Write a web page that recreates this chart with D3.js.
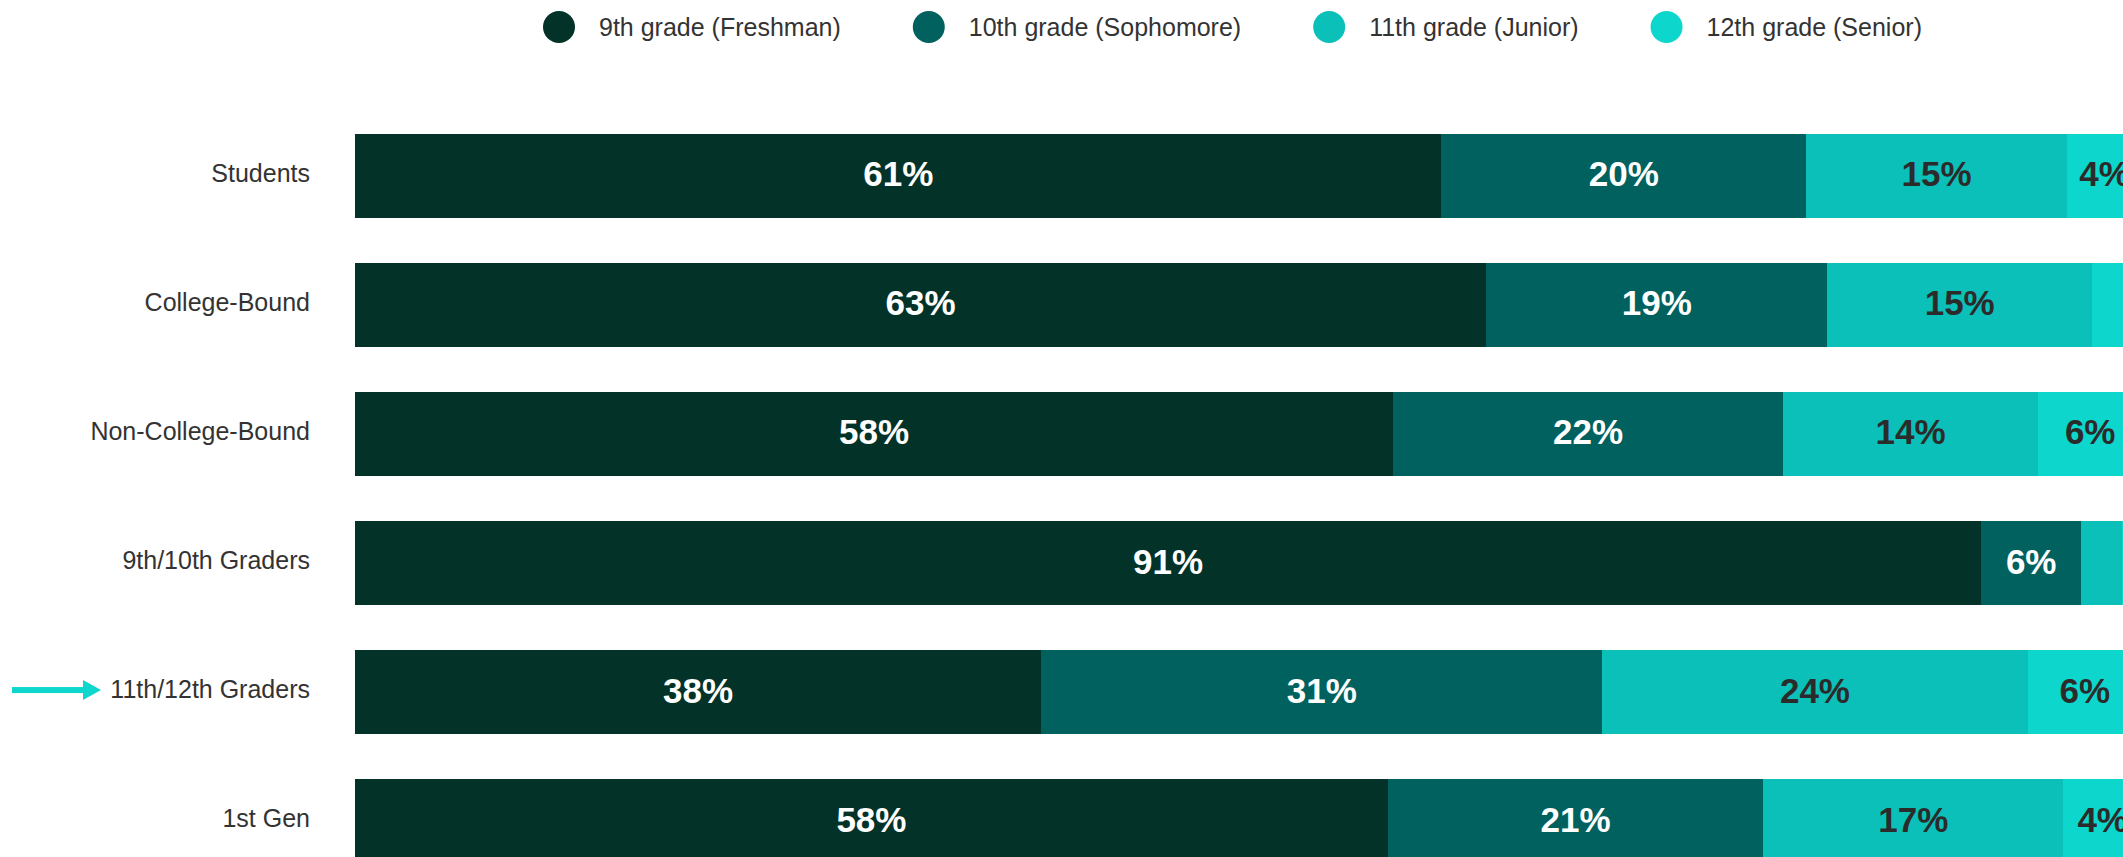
<!DOCTYPE html>
<html>
<head>
<meta charset="utf-8">
<script src="https://cdn.jsdelivr.net/npm/d3@7"></script>
<style>
  html, body { margin: 0; padding: 0; background: #ffffff; }
  svg { display: block; font-family: "Liberation Sans", Arial, Helvetica, sans-serif; }
</style>
</head>
<body>
<svg id="chart" width="2123" height="857"></svg>
<script>
// ---- data ----
const categories = ["Students", "College-Bound", "Non-College-Bound", "9th/10th Graders", "11th/12th Graders", "1st Gen"];
const seriesNames = ["9th grade (Freshman)", "10th grade (Sophomore)", "11th grade (Junior)", "12th grade (Senior)"];
const freshman  = [60.8, 63.3, 58.1, 91.0, 38.4, 57.8];
const sophomore = [20.4, 19.1, 21.8,  5.6, 31.4, 21.0];
const junior    = [14.6, 14.8, 14.3,  2.3, 23.8, 16.8];
const senior    = [ 4.2,  2.8,  5.8,  1.1,  6.4,  4.4];
const highlighted = "11th/12th Graders";

// ---- styles ----
const colors = ["#033228", "#00615f", "#0bc0b9", "#0dd7cd"];
const labelColors = ["#ffffff", "#ffffff", "#2b2b2b", "#2b2b2b"];

const svg = d3.select("#chart");
const seriesValues = [freshman, sophomore, junior, senior];
const rows = categories.map((c, i) => {
  const r = { category: c };
  seriesNames.forEach((s, j) => r[s] = seriesValues[j][i]);
  return r;
});
const stacked = d3.stack().keys(seriesNames)(rows);

const x = d3.scaleLinear().domain([0, 100]).range([355, 2142]);
const y = d3.scaleBand().domain(categories).range([134, 863]).paddingInner(0.35).paddingOuter(0);

// bars
const groups = svg.append("g").selectAll("g")
  .data(stacked).join("g")
  .attr("fill", (d, i) => colors[i]);

groups.selectAll("rect")
  .data(d => d.map(p => ({ p, key: d.key })))
  .join("rect")
  .attr("x", d => x(d.p[0]))
  .attr("y", d => y(d.p.data.category))
  .attr("width", d => x(d.p[1]) - x(d.p[0]))
  .attr("height", y.bandwidth())
  .attr("shape-rendering", "crispEdges");

// value labels
stacked.forEach((s, i) => {
  svg.append("g").selectAll("text")
    .data(s.filter(p => (p[1] - p[0]) >= 3.5))
    .join("text")
    .attr("x", p => (x(p[0]) + x(p[1])) / 2)
    .attr("y", p => y(p.data.category) + y.bandwidth() / 2)
    .attr("dy", "0.3em")
    .attr("text-anchor", "middle")
    .attr("font-size", 35)
    .attr("font-weight", "bold")
    .attr("fill", labelColors[i])
    .text(p => Math.round(p[1] - p[0]) + "%");
});

// category axis (labels only)
const yAxis = d3.axisLeft(y).tickSize(0).tickPadding(0);
const ag = svg.append("g").attr("transform", "translate(310,-2)").call(yAxis);
ag.select(".domain").remove();
ag.selectAll("text")
  .attr("font-size", 25)
  .attr("fill", "#333333")
  .attr("font-family", "'Liberation Sans', Arial, sans-serif");

// highlight arrow
const ay = y(highlighted) + y.bandwidth() / 2 - 2;
svg.append("rect").attr("x", 12).attr("y", ay - 3).attr("width", 73).attr("height", 6).attr("fill", colors[3]);
svg.append("path")
  .attr("d", `M83,${ay - 10} L101,${ay} L83,${ay + 10} Z`)
  .attr("fill", colors[3]);

// legend
const legend = svg.append("g");
let lx = 559;
seriesNames.forEach((name, i) => {
  legend.append("circle").attr("cx", lx).attr("cy", 27).attr("r", 16).attr("fill", colors[i]);
  const t = legend.append("text")
    .attr("x", lx + 40).attr("y", 27).attr("dy", "0.35em")
    .attr("font-size", 25).attr("fill", "#333333")
    .text(name);
  const w = t.node().getComputedTextLength();
  lx = lx + 40 + w + 88;
});
</script>
</body>
</html>
